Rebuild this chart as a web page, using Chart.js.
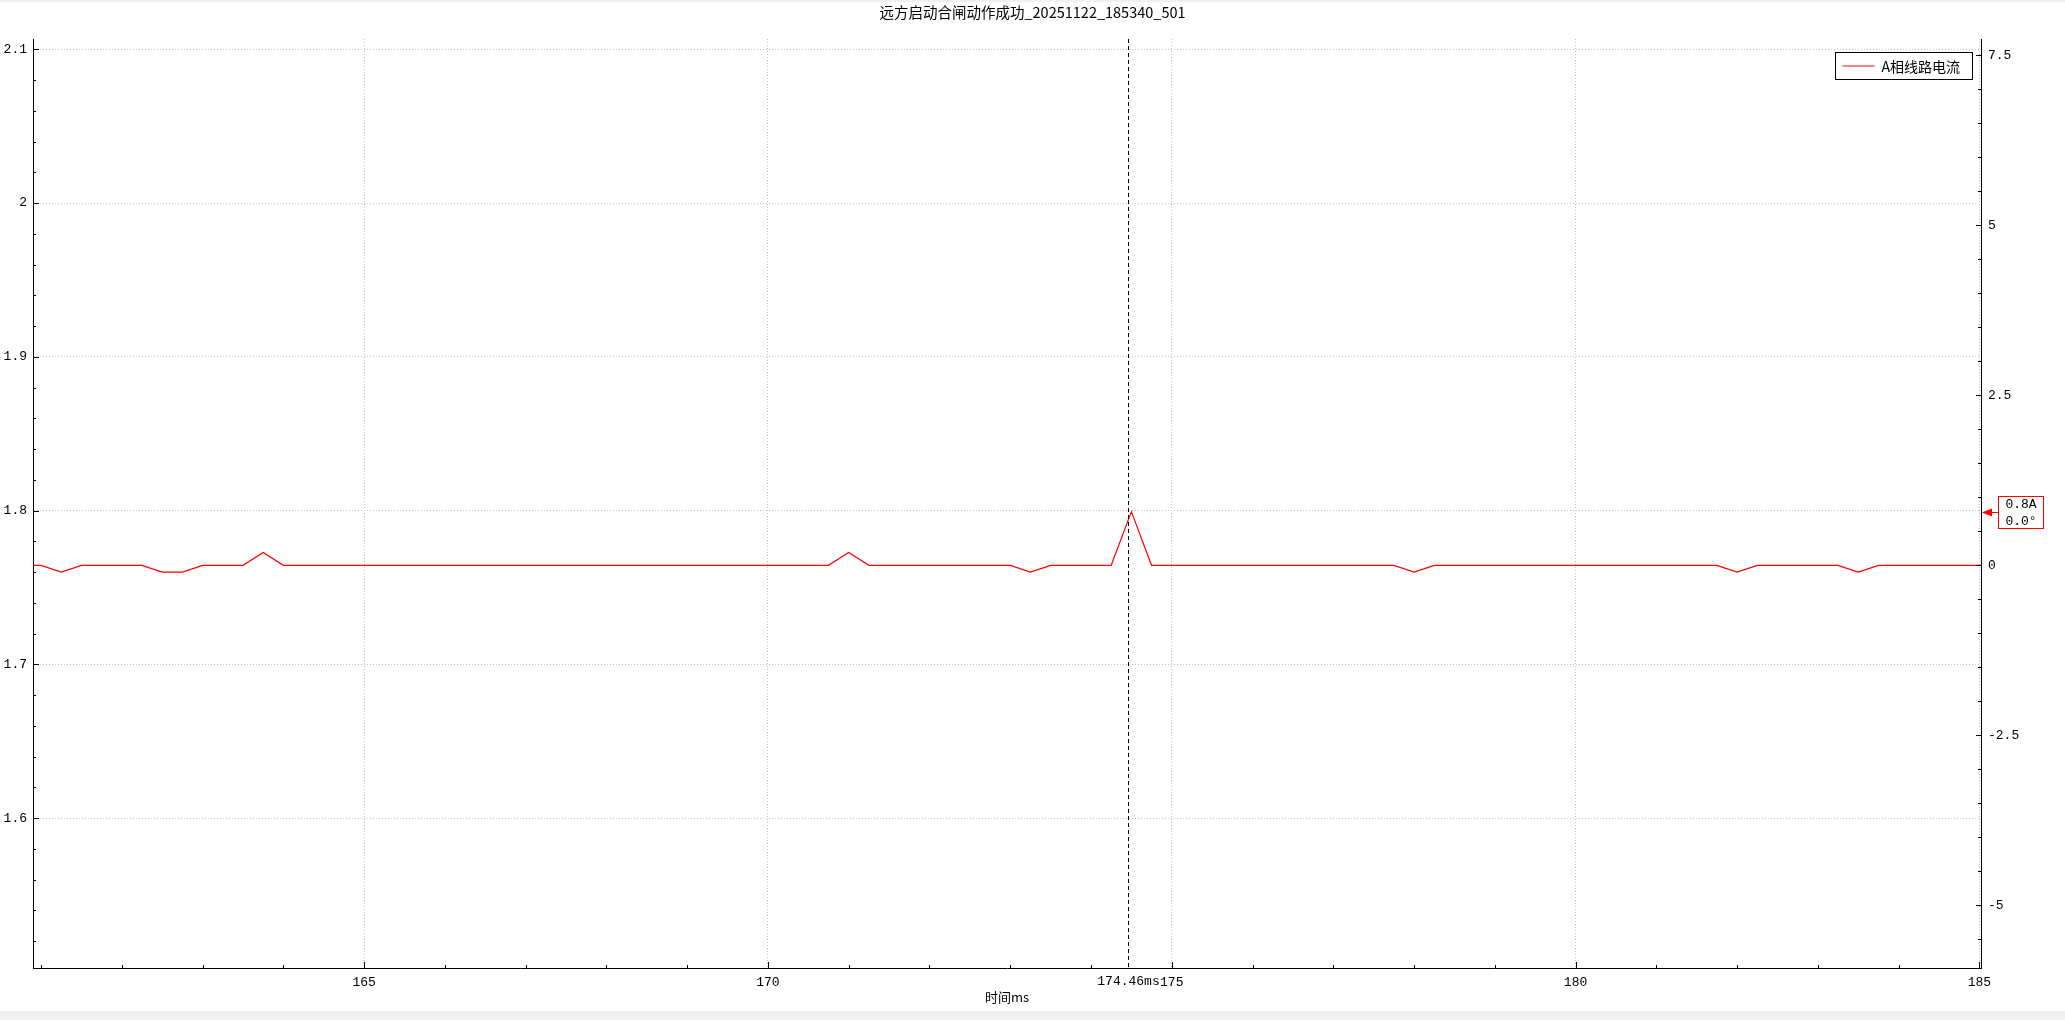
<!DOCTYPE html>
<html>
<head>
<meta charset="utf-8">
<title>远方启动合闸动作成功</title>
<script src="https://cdn.jsdelivr.net/npm/chart.js@4.4.1/dist/chart.umd.min.js"></script>
<style>
  html, body { margin: 0; padding: 0; background: #f0f0f0; overflow: hidden; }
  canvas { display: block; }
</style>
</head>
<body>
<canvas id="wave" width="2065" height="1020"></canvas>
<script>
const timeMs = [
  160.75,
  161, 161.25, 161.5, 161.75,
  162, 162.25, 162.5, 162.75,
  163, 163.25, 163.5, 163.75,
  164, 164.25, 164.5, 164.75,
  165, 165.25, 165.5, 165.75,
  166, 166.25, 166.5, 166.75,
  167, 167.25, 167.5, 167.75,
  168, 168.25, 168.5, 168.75,
  169, 169.25, 169.5, 169.75,
  170, 170.25, 170.5, 170.75,
  171, 171.25, 171.5, 171.75,
  172, 172.25, 172.5, 172.75,
  173, 173.25, 173.5, 173.75,
  174, 174.25, 174.5, 174.75,
  175, 175.25, 175.5, 175.75,
  176, 176.25, 176.5, 176.75,
  177, 177.25, 177.5, 177.75,
  178, 178.25, 178.5, 178.75,
  179, 179.25, 179.5, 179.75,
  180, 180.25, 180.5, 180.75,
  181, 181.25, 181.5, 181.75,
  182, 182.25, 182.5, 182.75,
  183, 183.25, 183.5, 183.75,
  184, 184.25, 184.5, 184.75,
  185, 185.25
];

const currentA = [
  0,
  0, -0.1, 0, 0,
  0, 0, -0.1, -0.1,
  0, 0, 0, 0.19,
  0, 0, 0, 0,
  0, 0, 0, 0,
  0, 0, 0, 0,
  0, 0, 0, 0,
  0, 0, 0, 0,
  0, 0, 0, 0,
  0, 0, 0, 0,
  0.19, 0, 0, 0,
  0, 0, 0, 0,
  0, -0.1, 0, 0,
  0, 0, 0.79, 0,
  0, 0, 0, 0,
  0, 0, 0, 0,
  0, 0, 0, 0,
  -0.1, 0, 0, 0,
  0, 0, 0, 0,
  0, 0, 0, 0,
  0, 0, 0, 0,
  -0.1, 0, 0, 0,
  0, 0, -0.1, 0,
  0, 0, 0, 0,
  0, 0
];

const seriesName = 'A相线路电流';
const chartTitle = '远方启动合闸动作成功_20251122_185340_501';

const xTicks = [165, 170, 175, 180, 185];
const xTickLabels = ['165', '170', '175', '180', '185'];
const leftTicks = [1.6, 1.7, 1.8, 1.9, 2.0, 2.1];
const leftTickLabels = ['1.6', '1.7', '1.8', '1.9', '2', '2.1'];
const rightTicks = [-5, -2.5, 0, 2.5, 5, 7.5];
const rightTickLabels = ['-5', '-2.5', '0', '2.5', '5', '7.5'];

const cursorMs = 174.46;
const cursorPhase = ['0.0°'];

const numFont = '"Liberation Mono", "DejaVu Sans Mono", monospace';
const cjkFont = '"Noto Sans CJK SC", "Noto Sans", sans-serif';

function fixTicks(list) {
  return function(scale) {
    scale.ticks = list.map(v => ({ value: v }));
  };
};

function nearestValue(t) {
  let best = 0;
  for (let i = 0; i < timeMs.length; i++) {
    if (Math.abs(timeMs[i] - t) < Math.abs(timeMs[best] - t)) best = i;
  };
  return currentA[best];
};

// page background, title, inward ticks, legend, cursor
const decor = {
  id: 'decor',
  beforeDraw(chart) {
    const ctx = chart.ctx;
    ctx.save();
    ctx.fillStyle = '#f0f0f0';
    ctx.fillRect(0, 0, chart.width, chart.height);
    ctx.fillStyle = '#ffffff';
    ctx.fillRect(0, 2, chart.width, 1009);
    ctx.fillStyle = '#000';
    ctx.font = '14.5px ' + cjkFont;
    ctx.textAlign = 'center';
    ctx.textBaseline = 'middle';
    ctx.fillText(chartTitle, chart.width / 2, 12);
    ctx.restore();
  },
  afterDraw(chart) {
    const ctx = chart.ctx;
    const a = chart.chartArea;
    const sx = chart.scales.x, sl = chart.scales.y, sr = chart.scales.y1;
    ctx.save();
    ctx.strokeStyle = '#000';
    ctx.lineWidth = 1;
    ctx.beginPath();
    // x ticks every 1 ms
    for (let v = Math.ceil(sx.min); v <= sx.max; v++) {
      let px = Math.round(sx.getPixelForValue(v)) + 0.5;
      let len = (v % 5 === 0) ? 6 : 3;
      ctx.moveTo(px, a.bottom);
      ctx.lineTo(px, a.bottom - len);
    };
    // left ticks every 0.02
    for (let k = Math.ceil(sl.min * 50); k <= Math.floor(sl.max * 50); k++) {
      let py = Math.round(sl.getPixelForValue(k / 50)) + 0.5;
      let len = (k % 5 === 0) ? 6 : 3;
      ctx.moveTo(a.left, py);
      ctx.lineTo(a.left + len, py);
    };
    // right ticks every 0.5
    for (let k = Math.ceil(sr.min * 2); k <= Math.floor(sr.max * 2); k++) {
      let py = Math.round(sr.getPixelForValue(k / 2)) + 0.5;
      let len = (k % 5 === 0) ? 5 : 3;
      ctx.moveTo(a.right, py);
      ctx.lineTo(a.right - len, py);
    };
    ctx.stroke();

    // cursor
    const cx = Math.round(sx.getPixelForValue(cursorMs)) + 0.5;
    ctx.setLineDash([4, 3]);
    ctx.beginPath();
    ctx.moveTo(cx, a.top);
    ctx.lineTo(cx, a.bottom);
    ctx.stroke();
    ctx.setLineDash([]);
    ctx.fillStyle = '#000';
    ctx.font = '13px ' + numFont;
    ctx.textAlign = 'center';
    ctx.textBaseline = 'top';
    ctx.fillText(cursorMs.toFixed(2) + 'ms', cx, a.bottom + 7);

    // value marker on the right axis
    const val = nearestValue(cursorMs);
    const my = Math.round(sr.getPixelForValue(val)) + 0.5;
    ctx.fillStyle = '#ff0000';
    ctx.strokeStyle = '#ff0000';
    ctx.beginPath();
    ctx.moveTo(a.right + 1, my);
    ctx.lineTo(a.right + 11, my - 4);
    ctx.lineTo(a.right + 11, my + 4);
    ctx.closePath();
    ctx.fill();
    ctx.beginPath();
    ctx.moveTo(a.right + 11, my);
    ctx.lineTo(a.right + 17, my);
    ctx.stroke();
    ctx.fillStyle = '#ffffff';
    ctx.fillRect(a.right + 17.5, my - 16, 45, 32);
    ctx.strokeRect(a.right + 17.5, my - 16, 45, 32);
    ctx.fillStyle = '#000';
    ctx.textBaseline = 'middle';
    ctx.fillText(val.toFixed(1) + 'A', a.right + 40, my - 8);
    ctx.fillText(cursorPhase[0], a.right + 40, my + 9);

    // legend box
    const lx = 1835.5, ly = 52.5;
    ctx.fillStyle = '#ffffff';
    ctx.fillRect(lx, ly, 137, 27);
    ctx.strokeStyle = '#000';
    ctx.strokeRect(lx, ly, 137, 27);
    ctx.strokeStyle = chart.data.datasets[0].borderColor;
    ctx.beginPath();
    ctx.moveTo(lx + 7, ly + 13.5);
    ctx.lineTo(lx + 39, ly + 13.5);
    ctx.stroke();
    ctx.fillStyle = '#000';
    ctx.font = '14px ' + cjkFont;
    ctx.textAlign = 'left';
    ctx.fillText(chart.data.datasets[0].label, lx + 46, ly + 14);
    ctx.restore();
  }
};

const tickFont = { family: numFont, size: 13 };

new Chart(document.getElementById('wave'), {
  type: 'line',
  data: {
    datasets: [{
      label: seriesName,
      data: timeMs.map((t, i) => ({ x: t, y: currentA[i] })),
      yAxisID: 'y1',
      borderColor: '#ff0000',
      borderWidth: 1.2,
      pointRadius: 0,
      tension: 0,
      fill: false
    }]
  },
  options: {
    responsive: false,
    animation: false,
    events: [],
    layout: { padding: { top: 39, left: 0, right: 0, bottom: 0 } },
    plugins: {
      legend: { display: false },
      title: { display: false },
      tooltip: { enabled: false }
    },
    scales: {
      x: {
        type: 'linear',
        position: 'bottom',
        min: 160.9,
        max: 185.02,
        afterBuildTicks: fixTicks(xTicks),
        afterFit: s => { s.height = 52; },
        grid: { color: '#c0c0c0', lineWidth: 1, drawTicks: false },
        border: { color: '#000', width: 1, dash: [1, 2] },
        ticks: {
          padding: 7, color: '#000', font: tickFont, maxRotation: 0, autoSkip: false,
          callback: (v, i) => xTickLabels[i]
        },
        title: {
          display: true, text: '时间ms', color: '#000',
          font: { family: cjkFont, size: 13 },
          padding: { top: 0, bottom: 15 }
        }
      },
      y: {
        type: 'linear',
        position: 'left',
        min: 1.5025,
        max: 2.1067,
        afterBuildTicks: fixTicks(leftTicks),
        afterFit: s => { s.width = 33; },
        grid: { color: '#c0c0c0', lineWidth: 1, drawTicks: false },
        border: { color: '#000', width: 1, dash: [1, 2] },
        ticks: {
          padding: 6, color: '#000', font: tickFont, autoSkip: false,
          callback: (v, i) => leftTickLabels[i]
        }
      },
      y1: {
        type: 'linear',
        position: 'right',
        min: -5.922,
        max: 7.74,
        afterBuildTicks: fixTicks(rightTicks),
        afterFit: s => { s.width = 84; },
        grid: { drawOnChartArea: false, drawTicks: false },
        border: { color: '#000', width: 1 },
        ticks: {
          padding: 7, color: '#000', font: tickFont, autoSkip: false,
          callback: (v, i) => rightTickLabels[i]
        }
      }
    }
  },
  plugins: [decor]
});
</script>
</body>
</html>
